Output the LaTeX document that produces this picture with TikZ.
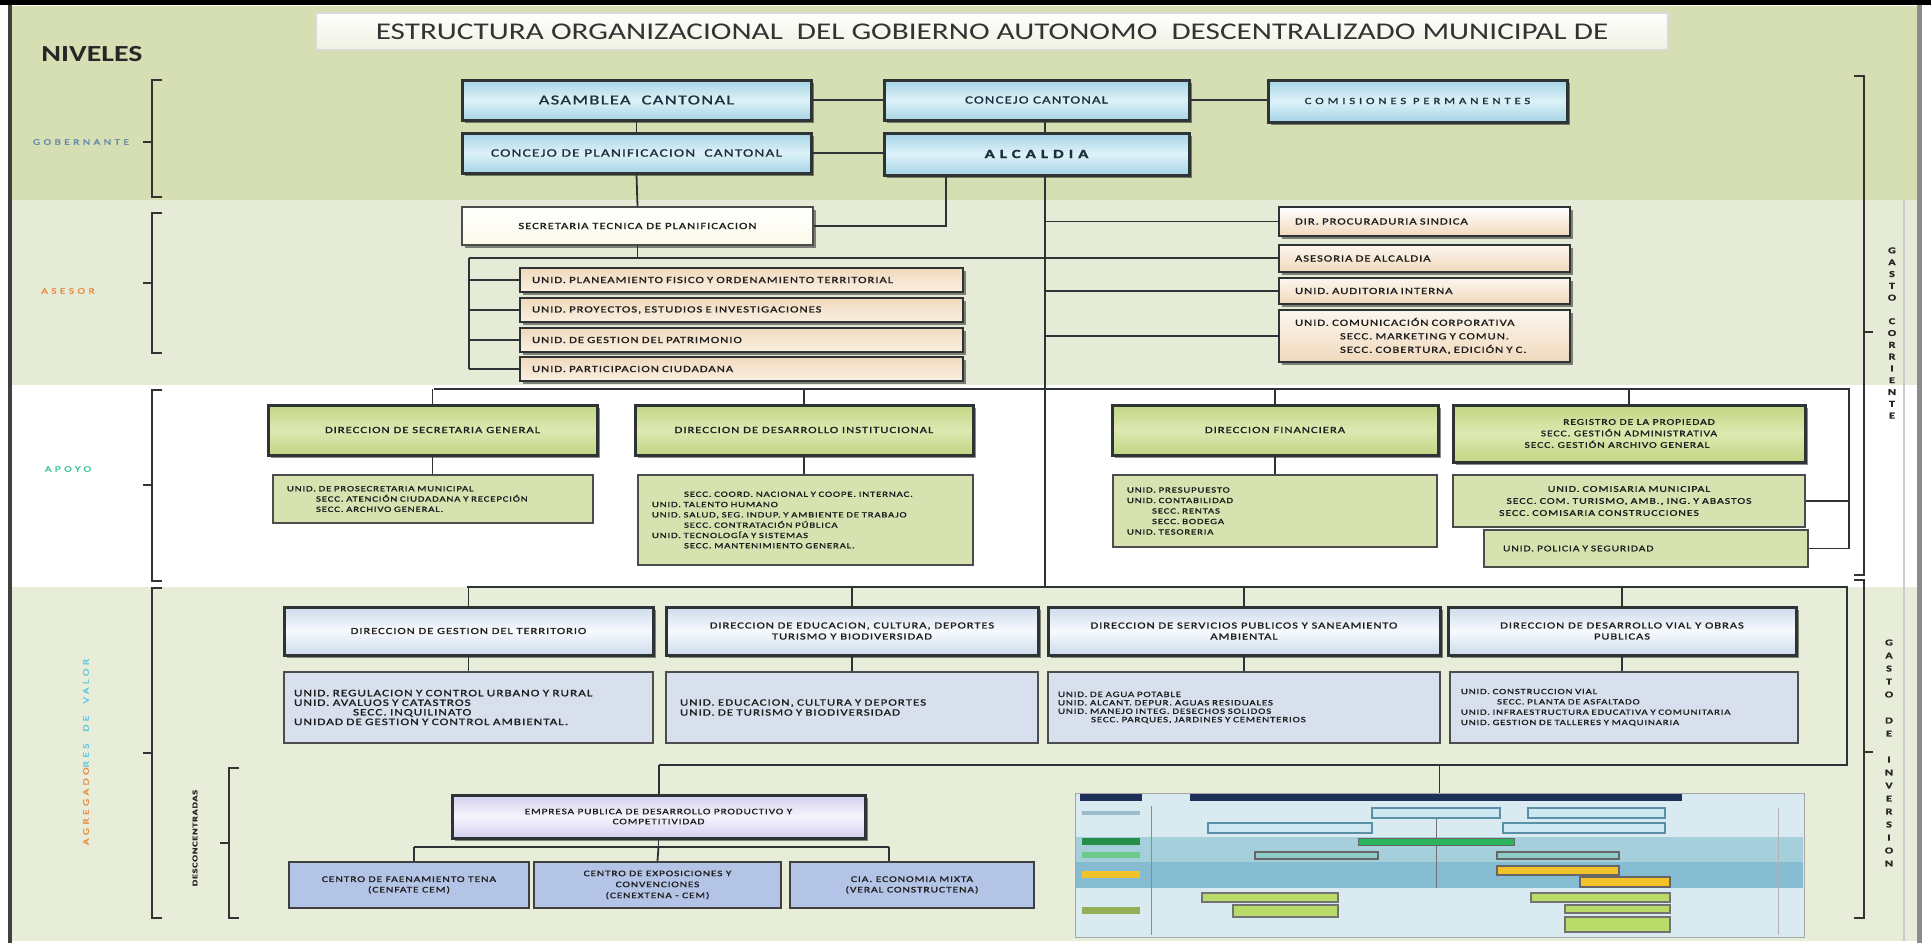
\documentclass[tikz,border=0pt]{standalone}
\usepackage{fontspec}
\setmainfont{Carlito}
\newfontfamily\wf[FakeStretch=1.35,LetterSpace=10,FakeBold=1.3]{Carlito}
\newfontfamily\wfl[FakeStretch=1.35,LetterSpace=40,FakeBold=1.3]{Carlito}
\newfontfamily\tf[FakeStretch=1.3]{Carlito}
\newcommand{\fsz}[2]{\fontsize{#1}{#2}\selectfont}
\usetikzlibrary{shadows}
\definecolor{bandG}{HTML}{D6DEB3}
\definecolor{bandA}{HTML}{E5EBD6}
\definecolor{bandV}{HTML}{E7EDD9}
\definecolor{lineC}{HTML}{2E3436}
\definecolor{govA}{HTML}{A6D4E5}
\definecolor{govB}{HTML}{DDF2F8}
\definecolor{aseA}{HTML}{F0D9BC}
\definecolor{aseB}{HTML}{FBF0E2}
\definecolor{secF}{HTML}{FCFAEA}
\definecolor{apoA}{HTML}{C2D583}
\definecolor{apoB}{HTML}{DDE9B2}
\definecolor{apoS}{HTML}{D7E2B1}
\definecolor{agrA}{HTML}{CCDBEC}
\definecolor{agrB}{HTML}{F7FAFD}
\definecolor{agrS}{HTML}{D8E0EE}
\definecolor{empA}{HTML}{D4CFEF}
\definecolor{empB}{HTML}{F6F4FC}
\definecolor{desF}{HTML}{B3C4E6}
\definecolor{txt}{HTML}{1E1E1E}
\definecolor{govT}{HTML}{1C2F3F}
\definecolor{labGov}{HTML}{5E88AC}
\definecolor{labAse}{HTML}{E98A3C}
\definecolor{labApo}{HTML}{3CC49E}
\definecolor{labVal}{HTML}{5CC8E0}
\definecolor{thBg}{HTML}{D9EAF1}
\definecolor{thB1}{HTML}{A6CFDC}
\definecolor{thB2}{HTML}{86BCD2}
\definecolor{thNavy}{HTML}{1E2F5A}
\definecolor{thBox}{HTML}{CFE7F0}
\definecolor{thBoxL}{HTML}{5A8FA8}
\definecolor{thGreen}{HTML}{2DB35A}
\definecolor{thTeal}{HTML}{8FCBC8}
\definecolor{thYel}{HTML}{F2C22A}
\definecolor{thLG}{HTML}{B9DB6A}
\begin{document}
\begin{tikzpicture}[x=1pt,y=-1pt,
  conn/.style={draw=lineC, line width=1.8pt},
  brk/.style={draw=black!80, line width=1.6pt},
  shad/.style={drop shadow={shadow xshift=3pt, shadow yshift=-3pt, fill=black, opacity=0.45}},
  box/.style={draw=lineC, line width=2.5pt, align=center, inner sep=1pt, text=txt, font=\wf\fsz{9.4}{11}},
  gov/.style={box, shad, line width=3pt, text=govT, top color=govA, bottom color=govA, middle color=govB},
  ase/.style={box, shad, top color=aseA, bottom color=aseB, align=left, inner xsep=12pt, text width=419pt},
  aser/.style={box, shad, top color=aseB!60!white, bottom color=aseA, align=left, inner xsep=16pt, text width=259pt},
  apo/.style={box, shad, line width=3pt, top color=apoA, bottom color=apoA, middle color=apoB},
  aposub/.style={box, line width=1.8pt, draw=black!70, fill=apoS, align=left, inner xsep=14pt, font=\wf\fsz{8}{10.3}},
  agr/.style={box, shad, line width=3pt, top color=agrA, bottom color=agrA, middle color=agrB, font=\wf\fsz{9.3}{11}},
  agrsub/.style={box, line width=1.8pt, draw=black!70, fill=agrS, align=left, inner xsep=10pt},
  des/.style={box, line width=2pt, draw=black!75, fill=desF, font=\wf\fsz{8.6}{10.5}},
  lab/.style={font=\wfl\fsz{8.5}{9}},
  vtxt/.style={align=center, text=black!85, font=\wf\bfseries\fsz{9}{#1}}
]
\useasboundingbox (0,0) rectangle (1931,943);
\fill[white] (0,0) rectangle (1931,943);
% bands
\fill[bandG] (11,6) rectangle (1919,200);
\fill[bandA] (11,200) rectangle (1919,385);
\fill[white] (11,385) rectangle (1919,587);
\fill[bandV] (11,587) rectangle (1919,941);
% frame
\fill[black] (0,0) rectangle (1931,5);
\fill[black!75] (8,5) rectangle (12,943);
\fill[black!45] (1917,5) rectangle (1922,943);
\fill[black!20] (1903,200) rectangle (1905,941);

% title
\node[draw=black!15, line width=1.5pt, top color=white, bottom color=bandG!40!white, minimum width=1352, minimum height=37, inner sep=0, text=black!80, font=\tf\fsz{24}{26}] (title) at (992,31.5) {ESTRUCTURA ORGANIZACIONAL\ \ DEL GOBIERNO AUTONOMO\ \ DESCENTRALIZADO MUNICIPAL DE};
\node[font=\tf\bfseries\fsz{23}{25}, text=black!85] (niveles) at (92,54) {NIVELES};

% level labels
\node[lab, text=labGov] (lgob) at (81,142) {GOBERNANTE};
\node[lab, text=labAse] (lase) at (68,291) {ASESOR};
\node[lab, text=labApo] (lapo) at (68,469) {APOYO};
\node[lab, rotate=90] (lagr) at (86,752) {\textcolor{labAse}{AGREGADO}\textcolor{labVal}{RES\ \ DE\ \ VALOR}};
\node[rotate=90, font=\wf\bfseries\fsz{7.5}{9}, text=black!85] (ldes) at (195,838) {DESCONCENTRADAS};

% left brackets
\draw[brk] (162,80) -- (152,80) -- (152,197) -- (162,197);
\draw[brk] (152,142) -- (143,142);
\draw[brk] (162,213) -- (152,213) -- (152,353) -- (162,353);
\draw[brk] (152,283) -- (143,283);
\draw[brk] (162,390) -- (152,390) -- (152,581) -- (162,581);
\draw[brk] (152,485) -- (143,485);
\draw[brk] (162,588) -- (152,588) -- (152,918) -- (162,918);
\draw[brk] (152,753) -- (143,753);
\draw[brk] (239,768) -- (229,768) -- (229,918) -- (239,918);
\draw[brk] (229,843) -- (220,843);
% right brackets
\draw[brk] (1854,76) -- (1864,76) -- (1864,575) -- (1854,575);
\draw[brk] (1864,332) -- (1873,332);
\draw[brk] (1854,580) -- (1864,580) -- (1864,918) -- (1854,918);
\draw[brk] (1864,752) -- (1873,752);
\node[vtxt=11.8] (gcor) at (1892,333) {G\\A\\S\\T\\O\\\mbox{}\\C\\O\\R\\R\\I\\E\\N\\T\\E};
\node[vtxt=13] (ginv) at (1889,753) {G\\A\\S\\T\\O\\\mbox{}\\D\\E\\\mbox{}\\I\\N\\V\\E\\R\\S\\I\\O\\N};

% ---------- GOBERNANTE ----------
\node[gov, minimum width=349, minimum height=40, font=\wf\fsz{13.6}{15}] (asam) at (636.5,100) {ASAMBLEA\ \ CANTONAL};
\node[gov, minimum width=349, minimum height=40, font=\wf\fsz{11.4}{13}] (cplan) at (636.5,153) {CONCEJO DE PLANIFICACION\ \ CANTONAL};
\node[gov, minimum width=305, minimum height=40, font=\wf\fsz{11}{13}] (ccant) at (1036.5,100) {CONCEJO CANTONAL};
\node[gov, minimum width=305, minimum height=42, font=\wf\bfseries\addfontfeature{LetterSpace=40}\fsz{12.5}{14}] (alc) at (1036.5,154) {ALCALDIA};
\node[gov, minimum width=299, minimum height=42, font=\wfl\fsz{9.5}{11}] (comis) at (1417.5,101) {COMISIONES PERMANENTES};

\coordinate (sp) at (1045,0);
\coordinate (secx) at (946,0);
\coordinate (agtop) at (1045,587);

\draw[conn] (asam.east) -- (ccant.west);
\draw[conn] (ccant.east) -- (ccant.east -| comis.west);
\draw[conn] (cplan.east) -- (cplan.east -| alc.west);
\draw[conn] (asam.south) -- (cplan.north);
\draw[conn] (ccant.south -| sp) -- (alc.north -| sp);

% ---------- ASESOR ----------
\node[box, shad, line width=2pt, draw=black!70, top color=white, bottom color=secF, minimum width=351, minimum height=38] (sec) at (637.5,226) {SECRETARIA TECNICA DE PLANIFICACION};
\node[ase, minimum height=24] (u1) at (741.5,280) {UNID. PLANEAMIENTO FISICO Y ORDENAMIENTO TERRITORIAL};
\node[ase, minimum height=24] (u2) at (741.5,310) {UNID. PROYECTOS, ESTUDIOS E INVESTIGACIONES};
\node[ase, minimum height=24] (u3) at (741.5,340) {UNID. DE GESTION DEL PATRIMONIO};
\node[ase, minimum height=24] (u4) at (741.5,369) {UNID. PARTICIPACION CIUDADANA};

\node[aser, minimum height=29, top color=white] (dps) at (1424.5,221.5) {DIR. PROCURADURIA SINDICA};
\node[aser, minimum height=27] (asa) at (1424.5,258.5) {ASESORIA DE ALCALDIA};
\node[aser, minimum height=26] (aud) at (1424.5,291) {UNID. AUDITORIA INTERNA};
\node[aser, minimum height=52, font=\wf\fsz{9.4}{13.5}] (com) at (1424.5,336) {UNID. COMUNICACIÓN CORPORATIVA\\\hspace*{45pt}SECC. MARKETING Y COMUN.\\\hspace*{45pt}SECC. COBERTURA, EDICIÓN Y C.};

\coordinate (aslL) at (469,258);
\coordinate (aslB) at (469,369);
\draw[conn] (cplan.south) -- (sec.north);
\draw[conn] (alc.south -| secx) |- (sec.east);
\draw[conn] (sec.south) -- (sec.south |- aslL);
\draw[conn] (aslL) -- (aslL -| asa.west);
\draw[conn] (aslL) -- (aslB);
\foreach \n in {u1,u2,u3,u4} \draw[conn] (\n.west -| aslL) -- (\n.west);
\foreach \n in {dps,aud,com} \draw[conn] (\n.west -| sp) -- (\n.west);
\draw[conn] (alc.south -| sp) -- (agtop);

% ---------- APOYO ----------
\node[apo, minimum width=329, minimum height=50] (dsg) at (432.5,430) {DIRECCION DE SECRETARIA GENERAL};
\node[apo, minimum width=338, minimum height=50] (ddi) at (804,430) {DIRECCION DE DESARROLLO INSTITUCIONAL};
\node[apo, minimum width=326, minimum height=50] (dfi) at (1275,430) {DIRECCION FINANCIERA};
\node[apo, minimum width=352, minimum height=57, font=\wf\fsz{8.6}{11.5}] (rpr) at (1629,433.5) {\hspace*{20pt}REGISTRO DE LA PROPIEDAD\\SECC. GESTIÓN ADMINISTRATIVA\hspace*{30pt}\\SECC. GESTIÓN ARCHIVO GENERAL\hspace*{24pt}};

\node[aposub, minimum height=48, text width=292pt] (ssg) at (433,499) {UNID. DE PROSECRETARIA MUNICIPAL\\\hspace*{29pt}SECC. ATENCIÓN CIUDADANA Y RECEPCIÓN\\\hspace*{29pt}SECC. ARCHIVO GENERAL.};
\node[aposub, minimum height=90, text width=307pt] (sdi) at (805.5,520) {\hspace*{32pt}SECC. COORD. NACIONAL Y COOPE. INTERNAC.\\UNID. TALENTO HUMANO\\UNID. SALUD, SEG. INDUP. Y AMBIENTE DE TRABAJO\\\hspace*{32pt}SECC. CONTRATACIÓN PÚBLICA\\UNID. TECNOLOGÍA Y SISTEMAS\\\hspace*{32pt}SECC. MANTENIMIENTO GENERAL.};
\node[aposub, minimum height=72, text width=296pt, font=\wf\fsz{8}{10.5}] (sfi) at (1275,511) {UNID. PRESUPUESTO\\UNID. CONTABILIDAD\\\hspace*{25pt}SECC. RENTAS\\\hspace*{25pt}SECC. BODEGA\\UNID. TESORERIA};
\node[aposub, minimum height=52, text width=324pt, align=center, font=\wf\fsz{8.8}{12}] (scm) at (1629,501) {UNID. COMISARIA MUNICIPAL\\SECC. COM. TURISMO, AMB., ING. Y ABASTOS\\SECC. COMISARIA CONSTRUCCIONES\hspace*{60pt}};
\node[aposub, minimum height=37, text width=286pt, inner xsep=19pt, font=\wf\fsz{8.6}{10}] (spo) at (1646,548.5) {UNID. POLICIA Y SEGURIDAD};

\coordinate (apL) at (434,389);
\coordinate (apR) at (1849,389);
\coordinate (apB) at (1849,548.5);
\draw[conn] (apL) -- (apR) -- (apB);
\foreach \n in {dsg,ddi,dfi,rpr} \draw[conn] (\n.north |- apL) -- (\n.north);
\draw[conn] (dsg.south) -- (ssg.north -| dsg.south);
\draw[conn] (ddi.south) -- (sdi.north -| ddi.south);
\draw[conn] (dfi.south) -- (sfi.north);
\draw[conn] (scm.east) -- (scm.east -| apR);
\draw[conn] (spo.east) -- (spo.east -| apR);

% ---------- AGREGADORES DE VALOR ----------
\node[agr, minimum width=369, minimum height=48] (h1) at (468.5,631) {DIRECCION DE GESTION DEL TERRITORIO};
\node[agr, minimum width=372, minimum height=48] (h2) at (852,631) {DIRECCION DE EDUCACION, CULTURA, DEPORTES\\TURISMO Y BIODIVERSIDAD};
\node[agr, minimum width=392, minimum height=48] (h3) at (1244,631) {DIRECCION DE SERVICIOS PUBLICOS Y SANEAMIENTO\\AMBIENTAL};
\node[agr, minimum width=348, minimum height=48] (h4) at (1622,631) {DIRECCION DE DESARROLLO VIAL Y OBRAS\\PUBLICAS};

\node[agrsub, minimum width=369, minimum height=71, text width=349pt, font=\wf\fsz{9.8}{9.6}] (s1) at (468.5,707.5) {UNID. REGULACION Y CONTROL URBANO Y RURAL\\UNID. AVALUOS Y CATASTROS\\\hspace*{59pt}SECC. INQUILINATO\\UNIDAD DE GESTION Y CONTROL AMBIENTAL.};
\node[agrsub, minimum width=372, minimum height=71, text width=344pt, inner xsep=14pt, font=\wf\fsz{9.6}{10}] (s2) at (852,707.5) {UNID. EDUCACION, CULTURA Y DEPORTES\\UNID. DE TURISMO Y BIODIVERSIDAD};
\node[agrsub, minimum width=392, minimum height=71, text width=372pt, font=\wf\fsz{8.1}{8.4}] (s3) at (1244,707.5) {UNID. DE AGUA POTABLE\\UNID. ALCANT. DEPUR. AGUAS RESIDUALES\\UNID. MANEJO INTEG. DESECHOS SOLIDOS\\\hspace*{33pt}SECC. PARQUES, JARDINES Y CEMENTERIOS};
\node[agrsub, minimum width=348, minimum height=71, text width=326pt, inner xsep=11pt, font=\wf\fsz{8}{10.3}] (s4) at (1624,707.5) {UNID. CONSTRUCCION VIAL\\\hspace*{36pt}SECC. PLANTA DE ASFALTADO\\UNID. INFRAESTRUCTURA EDUCATIVA Y COMUNITARIA\\UNID. GESTION DE TALLERES Y MAQUINARIA};

\coordinate (agL) at (467,587);
\coordinate (agR) at (1847,587);
\coordinate (agRB) at (1847,765);
\coordinate (agLB) at (659,765);
\draw[conn] (agL) -- (agR) -- (agRB) -- (agLB);
\foreach \h/\s in {h1/s1,h2/s2,h3/s3,h4/s4} {
  \draw[conn] (\h.north |- agL) -- (\h.north);
  \draw[conn] (\h.south) -- (\s.north -| \h.south);
}

% ---------- DESCONCENTRADAS ----------
\node[box, shad, line width=3pt, top color=empA, bottom color=empA, middle color=empB, minimum width=413, minimum height=43, font=\wf\fsz{8.4}{10}] (emp) at (658.5,816.5) {EMPRESA PUBLICA DE DESARROLLO PRODUCTIVO Y\\COMPETITIVIDAD};
\node[des, minimum width=240, minimum height=46] (d1) at (409,885) {CENTRO DE FAENAMIENTO TENA\\(CENFATE CEM)};
\node[des, minimum width=247, minimum height=46, font=\wf\fsz{8.4}{11}] (d2) at (657.5,885) {CENTRO DE EXPOSICIONES Y\\CONVENCIONES\\(CENEXTENA - CEM)};
\node[des, minimum width=244, minimum height=46] (d3) at (912,885) {CIA. ECONOMIA MIXTA\\(VERAL CONSTRUCTENA)};

\coordinate (dL) at (414,847);
\coordinate (dR) at (889,847);
\draw[conn] (agLB) -- (emp.north -| agLB);
\draw[conn] (emp.south) -- (emp.south |- dL);
\draw[conn] (dL) -- (dR);
\draw[conn] (dL) -- (dL |- d1.north);
\draw[conn] (emp.south |- dL) -- (d2.north);
\draw[conn] (dR) -- (dR |- d3.north);

% ---------- thumbnail ----------
\node[draw=black!35, line width=1pt, fill=thBg, minimum width=729, minimum height=144, inner sep=0] (thumb) at (1439.5,865) {};
\draw[conn] (thumb.north |- agLB) -- (thumb.north);
\fill[thB1] (1076,837) rectangle (1803,862);
\fill[thB2] (1076,862) rectangle (1803,888);
\fill[thNavy] (1080,794) rectangle (1142,801);
\fill[thNavy] (1190,794) rectangle (1682,801);
\draw[black!45, line width=1pt] (1151,806) -- (1151,935);
\draw[black!30, line width=0.8pt] (1778,808) -- (1778,935);
\draw[black!55, line width=1pt] (1436,818) -- (1436,888);
\foreach \a/\b/\c/\d in {1372/808/1500/818, 1528/808/1665/818, 1208/823/1372/833, 1503/823/1665/833}
  \draw[thBoxL, fill=thBox, line width=1.2pt] (\a,\b) rectangle (\c,\d);
\draw[black!60, fill=thGreen, line width=1pt] (1358,838) rectangle (1514,845);
\foreach \a/\b/\c/\d in {1255/852/1378/859, 1497/852/1619/859}
  \draw[black!60, fill=thTeal, line width=1.2pt] (\a,\b) rectangle (\c,\d);
\foreach \a/\b/\c/\d in {1497/866/1619/875, 1580/877/1670/887}
  \draw[black!60, fill=thYel, line width=1.2pt] (\a,\b) rectangle (\c,\d);
\foreach \a/\b/\c/\d in {1202/893/1338/902, 1233/905/1338/917, 1531/893/1670/902, 1565/905/1670/913, 1565/917/1670/932}
  \draw[black!55, fill=thLG, line width=1.2pt] (\a,\b) rectangle (\c,\d);
\fill[thBoxL!60] (1082,811) rectangle (1140,815);
\fill[thGreen!80!black] (1082,838) rectangle (1140,845);
\fill[thGreen!70] (1082,852) rectangle (1140,858);
\fill[thYel] (1082,871) rectangle (1140,878);
\fill[thLG!80!black] (1082,907) rectangle (1140,914);
\end{tikzpicture}
\end{document}
